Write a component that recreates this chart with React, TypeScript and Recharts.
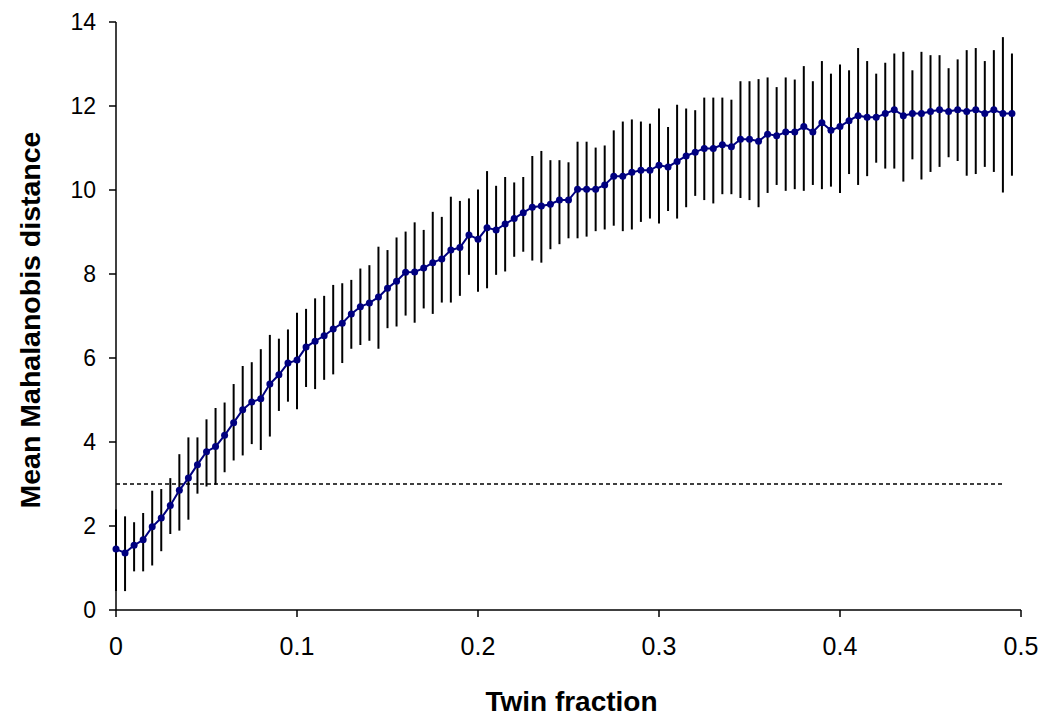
import React from "react";
import { ComposedChart, Line, XAxis, YAxis, ErrorBar, ReferenceLine } from "recharts";

// twin fraction steps (x)
const twinFraction = [
  0, 0.005, 0.01, 0.015, 0.02, 0.025, 0.03, 0.035, 0.04, 0.045,
  0.05, 0.055, 0.06, 0.065, 0.07, 0.075, 0.08, 0.085, 0.09, 0.095,
  0.1, 0.105, 0.11, 0.115, 0.12, 0.125, 0.13, 0.135, 0.14, 0.145,
  0.15, 0.155, 0.16, 0.165, 0.17, 0.175, 0.18, 0.185, 0.19, 0.195,
  0.2, 0.205, 0.21, 0.215, 0.22, 0.225, 0.23, 0.235, 0.24, 0.245,
  0.25, 0.255, 0.26, 0.265, 0.27, 0.275, 0.28, 0.285, 0.29, 0.295,
  0.3, 0.305, 0.31, 0.315, 0.32, 0.325, 0.33, 0.335, 0.34, 0.345,
  0.35, 0.355, 0.36, 0.365, 0.37, 0.375, 0.38, 0.385, 0.39, 0.395,
  0.4, 0.405, 0.41, 0.415, 0.42, 0.425, 0.43, 0.435, 0.44, 0.445,
  0.45, 0.455, 0.46, 0.465, 0.47, 0.475, 0.48, 0.485, 0.49, 0.495,
];

// mean Mahalanobis distance
const meanDist = [
  1.45, 1.36, 1.54, 1.67, 1.98, 2.19, 2.49, 2.85, 3.14, 3.46,
  3.77, 3.89, 4.16, 4.46, 4.77, 4.95, 5.03, 5.38, 5.6, 5.88,
  5.95, 6.26, 6.4, 6.53, 6.69, 6.83, 7.05, 7.22, 7.31, 7.45,
  7.66, 7.83, 8.04, 8.05, 8.14, 8.27, 8.36, 8.57, 8.63, 8.93,
  8.83, 9.1, 9.05, 9.19, 9.32, 9.46, 9.59, 9.62, 9.66, 9.76,
  9.76, 10.02, 10.02, 10.02, 10.12, 10.33, 10.33, 10.42, 10.47, 10.47,
  10.59, 10.55, 10.68, 10.81, 10.9, 10.99, 10.99, 11.08, 11.03, 11.21,
  11.21, 11.16, 11.33, 11.29, 11.38, 11.38, 11.51, 11.38, 11.6, 11.42,
  11.51, 11.65, 11.77, 11.73, 11.73, 11.82, 11.91, 11.77, 11.82, 11.82,
  11.87, 11.91, 11.87, 11.91, 11.87, 11.91, 11.82, 11.91, 11.82, 11.82,
];

// top of each error bar
const upperDist = [
  2.39, 2.23, 2.09, 2.31, 2.84, 2.88, 3.14, 3.71, 4.11, 4.11,
  4.54, 4.81, 4.94, 5.38, 5.81, 5.9, 6.21, 6.55, 6.46, 6.68,
  7.08, 7.17, 7.42, 7.48, 7.74, 7.78, 7.86, 8.13, 8.21, 8.65,
  8.57, 8.87, 9.01, 9.23, 9.05, 9.48, 9.36, 9.84, 9.74, 9.8,
  10.01, 10.45, 10.1, 10.31, 10.18, 10.31, 10.81, 10.93, 10.71, 10.71,
  10.66, 11.15, 11.15, 11.01, 11.06, 11.42, 11.63, 11.68, 11.63, 11.58,
  11.94, 11.5, 12.03, 11.94, 11.9, 12.2, 12.2, 12.2, 12.15, 12.59,
  12.59, 12.64, 12.68, 12.45, 12.68, 12.63, 12.95, 12.59, 13.07, 12.77,
  12.99, 12.85, 13.38, 13.07, 12.77, 13.03, 13.25, 13.29, 12.85, 13.29,
  13.21, 13.21, 12.9, 13.11, 13.33, 13.38, 13.07, 13.33, 13.64, 13.25,
];

// bottom of each error bar
const lowerDist = [
  0.45, 0.45, 0.92, 0.92, 1.06, 1.4, 1.81, 1.89, 2.15, 2.77,
  2.94, 2.98, 3.28, 3.56, 3.68, 3.95, 3.81, 4.13, 4.74, 4.96,
  4.78, 5.31, 5.26, 5.48, 5.61, 5.88, 6.22, 6.31, 6.41, 6.22,
  6.71, 6.75, 7.01, 6.84, 7.18, 7.05, 7.32, 7.32, 7.48, 7.98,
  7.58, 7.66, 7.98, 8.06, 8.41, 8.53, 8.32, 8.27, 8.59, 8.71,
  8.85, 8.85, 8.89, 9.02, 9.06, 9.15, 9.02, 9.06, 9.24, 9.32,
  9.2, 9.5, 9.32, 9.59, 9.86, 9.76, 9.68, 9.9, 9.9, 9.81,
  9.76, 9.59, 9.93, 10.12, 9.98, 10.02, 9.98, 10.12, 10.02, 10.08,
  9.93, 10.38, 10.12, 10.33, 10.65, 10.51, 10.51, 10.2, 10.73, 10.25,
  10.43, 10.55, 10.78, 10.69, 10.34, 10.38, 10.55, 10.43, 9.94, 10.34,
];

const xTicks = [0, 0.1, 0.2, 0.3, 0.4, 0.5];
const yTicks = [0, 2, 4, 6, 8, 10, 12, 14];
const threshold = 3;
const thresholdEnd = 0.49;

const rows = twinFraction.map((x, i) => ({
  x,
  mean: meanDist[i],
  err: [meanDist[i] - lowerDist[i], upperDist[i] - meanDist[i]],
}));

const font = "'Liberation Sans', Arial, sans-serif";

const YTitle = (props: any) => {
  const vb = props.viewBox;
  const cx = 30;
  const cy = vb.y + vb.height / 2 + 4;
  return (
    <text x={cx} y={cy} transform={`rotate(-90 ${cx} ${cy})`} textAnchor="middle" dominantBaseline="central"
      fontFamily={font} fontWeight="bold" fontSize={28.5} fill="#000">
      Mean Mahalanobis distance
    </text>
  );
};

const XTitle = (props: any) => {
  const vb = props.viewBox;
  return (
    <text x={vb.x + vb.width / 2 + 3} y={711} textAnchor="middle" fontFamily={font} fontWeight="bold" fontSize={28} fill="#000">
      Twin fraction
    </text>
  );
};

export default function App() {
  return (
    <div style={{ position: "absolute", left: 0, top: 0, width: 1047, height: 716, background: "#fff" }}>
      <ComposedChart width={1047} height={716} data={rows} margin={{ top: 22, right: 26, bottom: 46, left: 10 }}>
        <XAxis
          dataKey="x"
          type="number"
          domain={[0, 0.5]}
          ticks={xTicks}
          tickFormatter={(v: number) => String(v)}
          height={60}
          stroke="#000"
          strokeWidth={1.5}
          tickSize={7}
          tickMargin={20}
          tick={{ fill: "#000", fontSize: 25, fontFamily: font }}
          label={<XTitle />}
        />
        <YAxis
          type="number"
          domain={[0, 14]}
          ticks={yTicks}
          width={106}
          stroke="#000"
          strokeWidth={1.5}
          tickSize={7}
          tickMargin={13}
          tick={{ fill: "#000", fontSize: 23, fontFamily: font }}
          label={<YTitle />}
        />
        <ReferenceLine
          segment={[{ x: 0, y: threshold }, { x: thresholdEnd, y: threshold }]}
          stroke="#000"
          strokeWidth={1.5}
          strokeDasharray="4 3"
        />
        <Line dataKey="mean" stroke="none" dot={false} activeDot={false} isAnimationActive={false}>
          <ErrorBar dataKey="err" direction="y" width={0} stroke="#000" strokeWidth={2} />
        </Line>
        <Line
          dataKey="mean"
          stroke="#000080"
          strokeWidth={2}
          dot={{ r: 3.5, fill: "#000080", stroke: "#000080", strokeWidth: 0 }}
          activeDot={false}
          isAnimationActive={false}
        />
      </ComposedChart>
    </div>
  );
}
